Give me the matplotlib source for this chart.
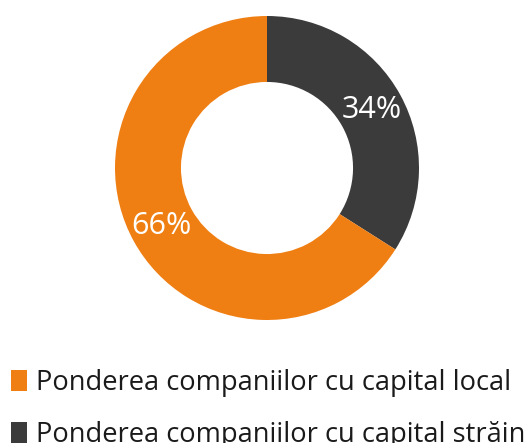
import matplotlib
matplotlib.use("Agg")
import matplotlib.pyplot as plt
from matplotlib.patches import Patch

labels = ["Ponderea companiilor cu capital local", "Ponderea companiilor cu capital străin"]
values = [66, 34]
colors = ["#F07F13", "#3B3B3B"]

W, H = 529, 443
fig = plt.figure(figsize=(W / 100, H / 100), dpi=100)
plt.rcParams['font.family'] = ['Open Sans', 'DejaVu Sans']

cx, cy, R = 267, 168, 152
ax = fig.add_axes([(cx - R) / W, (H - cy - R) / H, 2 * R / W, 2 * R / H])

# draw dark (foreign) first clockwise from top
order = [1, 0]
wedges, texts, autotexts = ax.pie(
    [values[i] for i in order],
    colors=[colors[i] for i in order],
    startangle=90, counterclock=False,
    radius=1.0,
    wedgeprops=dict(width=0.434, edgecolor="none"),
    autopct=lambda p: f"{p:.0f}%", pctdistance=0.79,
    textprops=dict(color="white", fontsize=22),
)
ax.set_xlim(-1, 1)
ax.set_ylim(-1, 1)
ax.set_aspect("equal")
ax.axis("off")

handles = [Patch(facecolor=colors[i], edgecolor="none") for i in range(2)]
fig.legend(handles, labels, loc="upper left",
           bbox_to_anchor=(11 / W, 1 - 369 / H),
           frameon=False, fontsize=19.6, handlelength=0.6, handleheight=0.78,
           handletextpad=0.3, labelspacing=0.88, borderaxespad=0, borderpad=0,
           labelcolor="#1A1A1A")

fig.savefig("out.png", dpi=100)
